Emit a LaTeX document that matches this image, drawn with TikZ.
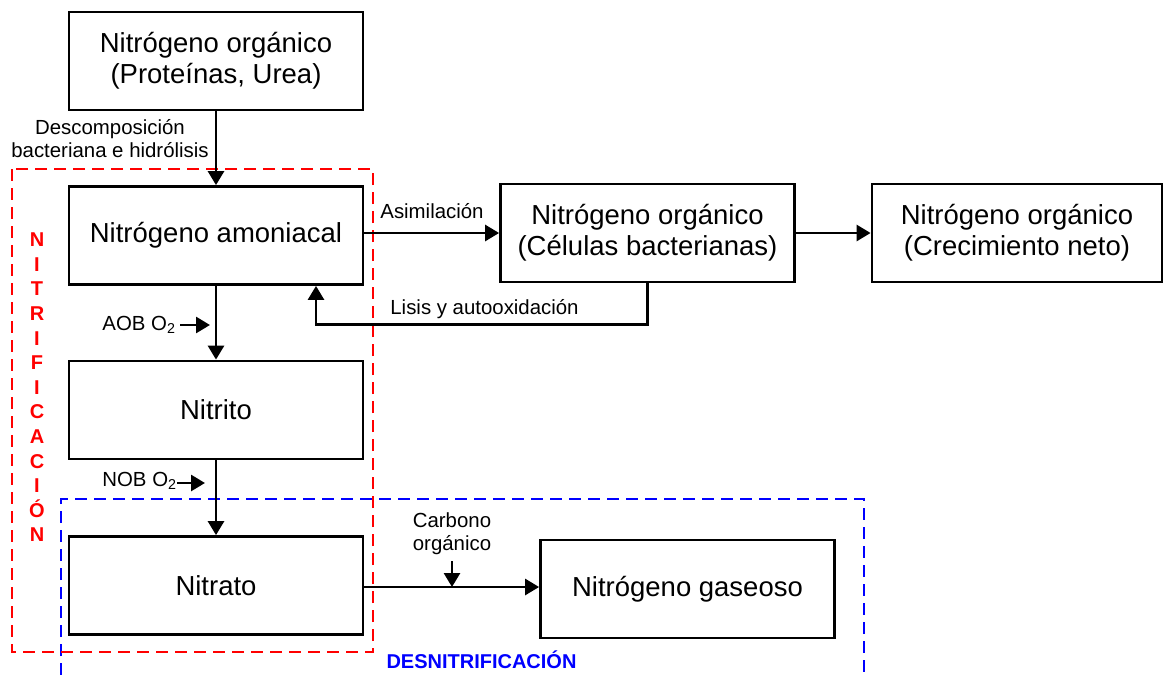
\documentclass[tikz,border=0pt]{standalone}
\usepackage{fontspec}
\setmainfont{Liberation Sans}
\usetikzlibrary{arrows.meta,calc}
\definecolor{nred}{RGB}{255,0,0}
\definecolor{nblue}{RGB}{0,0,255}
\tikzset{
  box/.style={draw=black, line width=1.4pt, fill=white, minimum width=147pt, minimum height=49pt, align=center, inner sep=0pt,
    font=\fontsize{13.75}{15.5}\selectfont},
  lbl/.style={align=center, inner sep=0pt, font=\fontsize{10.2}{11.5}\selectfont},
  arr/.style={draw=black, line width=1.4pt, -{Triangle[length=7pt,width=8pt]}},
  reddash/.style={draw=nred, line width=1.4pt, dash pattern=on 6pt off 3.5pt},
  bluedash/.style={draw=nblue, line width=1.4pt, dash pattern=on 6pt off 3.5pt},
}
\begin{document}
\begin{tikzpicture}[x=0.5pt,y=-0.5pt]
\useasboundingbox (0,0) rectangle (1164,675);
% dashed regions
\draw[bluedash] (61,675) -- (61,499) -- (864,499) -- (864,675);
\draw[reddash] (12,169) rectangle (373,652);
% boxes
\node[box] (org) at (216,61) {Nitrógeno orgánico\\(Proteínas, Urea)};
\node[box] (amon) at (216,235.5) {Nitrógeno amoniacal};
\node[box] (nitrito) at (216,410) {Nitrito};
\node[box] (nitrato) at (216,585.5) {Nitrato};
\node[box] (cel) at (647.5,233) {Nitrógeno orgánico\\(Células bacterianas)};
\node[box, minimum width=145pt] (crec) at (1017,233) {Nitrógeno orgánico\\(Crecimiento neto)};
\node[box] (gas) at (687.5,589) {Nitrógeno gaseoso};
% labels
\node[lbl] (desc) at (110,138.5) {Descomposición\\bacteriana e hidrólisis};
\node[lbl, anchor=west] (asim) at (380,211) {Asimilación};
\node[lbl, anchor=west] (lisis) at (390,309) {Lisis y autooxidación};
\node[lbl, anchor=west] (aob) at (102,325) {AOB O\textsubscript{2}};
\node[lbl, anchor=west] (nob) at (102,481) {NOB O\textsubscript{2}};
\node[lbl] (carb) at (452,534) {Carbono\\orgánico};
\node[align=center, inner sep=0pt, text=nred, font=\bfseries\fontsize{10}{12.3}\selectfont] (nitlab) at (37,387.5)
  {N\\I\\T\\R\\I\\F\\I\\C\\A\\C\\I\\Ó\\N};
\node[inner sep=0pt, text=nblue, font=\bfseries\fontsize{10}{12}\selectfont] (deslab) at (481.5,660) {DESNITRIFICACIÓN};
% connectors
\draw[arr] (org.south) -- (amon.north);
\draw[arr] (amon.east |- cel.west) -- (cel.west);
\draw[arr] (cel.east) -- (crec.west);
\draw[arr] (cel.south) -- ++(0,41) -| ($(amon.south)+(100,0)$);
\draw[arr] (amon.south) -- (nitrito.north);
\draw[arr] (nitrito.south) -- (nitrato.north);
\draw[arr] (nitrato.east |- gas.west) ++(0,-2) coordinate (ne) -- (ne -| gas.west);
\draw[arr] ($(carb.south)+(0,6)$) -- (carb.south |- ne);
\draw[arr] ($(aob.east)+(4,0)$) -- ($(aob.east -| amon.south)+(-6,0)$);
\draw[arr] ($(nob.east)+(0,2)$) -- ($(nob.east -| amon.south)+(-11,2)$);
\end{tikzpicture}
\end{document}
